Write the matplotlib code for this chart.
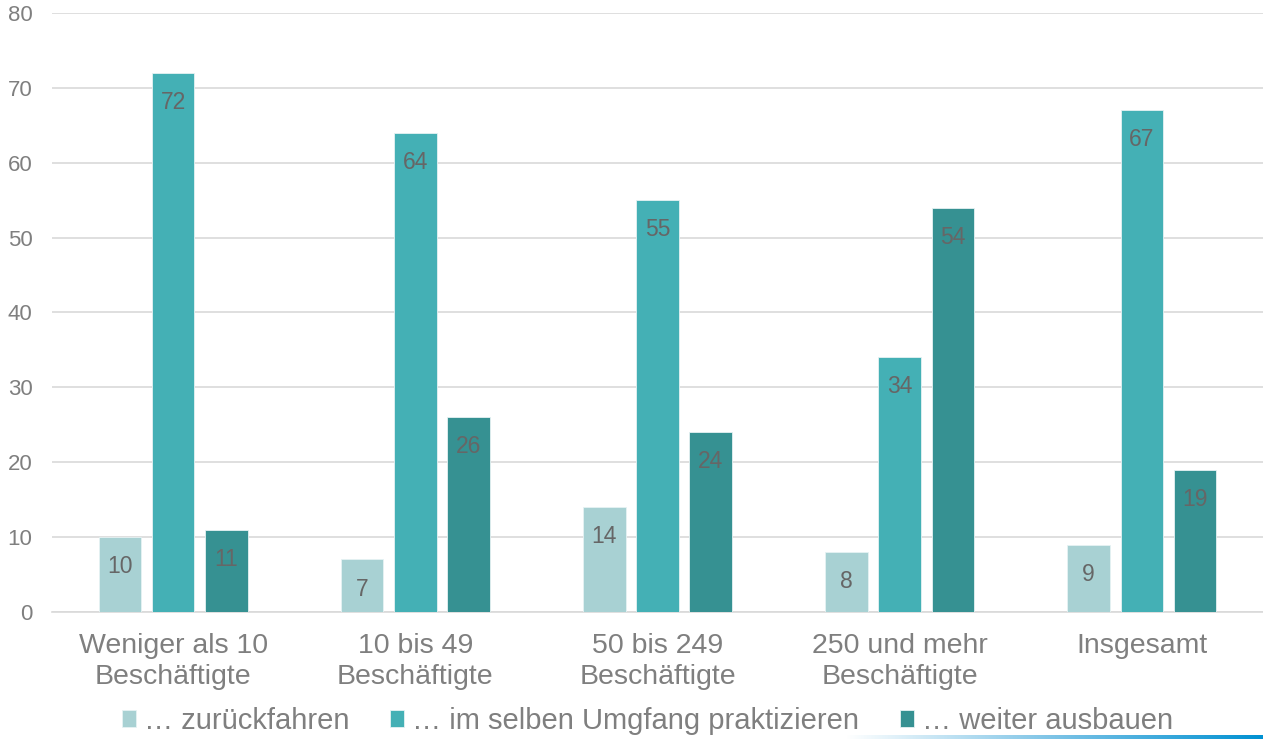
import numpy as np
import matplotlib.pyplot as plt
from matplotlib.colors import LinearSegmentedColormap

plt.rcParams['font.family'] = ['Liberation Sans', 'DejaVu Sans']

categories = ["Weniger als 10\nBeschäftigte", "10 bis 49\nBeschäftigte", "50 bis 249\nBeschäftigte",
              "250 und mehr\nBeschäftigte", "Insgesamt"]
series_names = ["… zurückfahren", "… im selben Umgfang praktizieren", "… weiter ausbauen"]
zurueck = [10, 7, 14, 8, 9]
selben = [72, 64, 55, 34, 67]
ausbauen = [11, 26, 24, 54, 19]
colors = ["#A8D1D3", "#44B0B5", "#369192"]

fig = plt.figure(figsize=(12.63, 7.39), dpi=100)
ax = fig.add_axes([0.0412, 0.172, 0.9588, 0.8105])

x = np.arange(len(categories))
width = 0.176
offsets = [-0.22, 0.0, 0.22]
for vals, off, col, name in zip([zurueck, selben, ausbauen], offsets, colors, series_names):
    bars = ax.bar(x + off, vals, width, color=col, edgecolor="#E6F2F3", linewidth=0.6,
                  label=name, zorder=3)
    for b, v in zip(bars, vals):
        ax.annotate(str(v), xy=(b.get_x() + b.get_width() / 2, v), xytext=(0, -13),
                    textcoords="offset points", ha="center", va="top",
                    fontsize=16.5, color="#666666", zorder=4)

ax.set_xlim(-0.5, 4.5)
ax.set_ylim(0, 80)
ax.set_yticks(range(0, 81, 10))
ax.grid(axis="y", color="#D9D9D9", linewidth=1.2, zorder=0)
for s in ["top", "right", "left"]:
    ax.spines[s].set_visible(False)
ax.spines["bottom"].set_color("#D9D9D9")
ax.spines["bottom"].set_linewidth(1.2)
ax.set_xticks(x)
ax.set_xticklabels(categories, fontsize=20.5, color="#7F7F7F", linespacing=1.25)
ax.tick_params(axis="x", length=0, pad=15)
ax.tick_params(axis="y", length=0, pad=14, labelsize=16, labelcolor="#7F7F7F")

fig.legend(loc="lower center", bbox_to_anchor=(0.5127, -0.03), ncol=3, frameon=False,
           fontsize=21, labelcolor="#7F7F7F", handlelength=0.48, handleheight=0.48,
           handletextpad=0.27, columnspacing=1.4)

# blue gradient line at the bottom right
gax = fig.add_axes([0.67, 0.0, 0.33, 0.005])
grad = np.linspace(0, 1, 256).reshape(1, -1)
cmap = LinearSegmentedColormap.from_list("g", ["#FFFFFF", "#7CC3E6", "#0091D2"])
gax.imshow(grad, aspect="auto", cmap=cmap)
gax.axis("off")

fig.savefig("out.png", dpi=100)
